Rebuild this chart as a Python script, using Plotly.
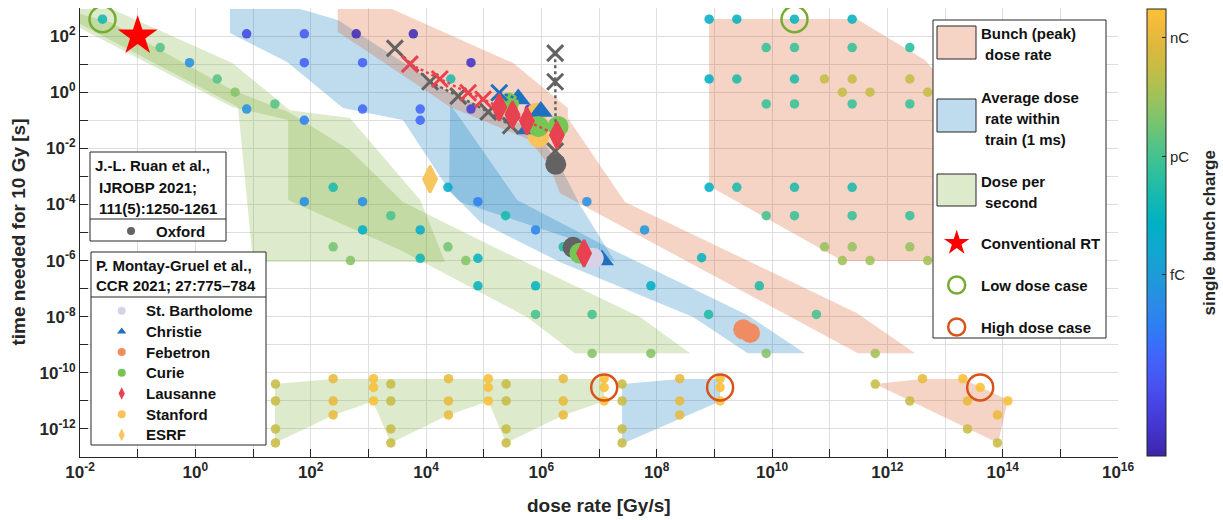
import plotly.graph_objects as go

# ---------------- data (all values are log10) ----------------
# x: dose rate [Gy/s], y: time needed for 10 Gy [s], q: single bunch charge [C]
dots_upper_left = [(-1.61, 2.60, -13.2), (-0.61, 1.59, -11.7), (-0.10, 1.05, -15.5), (0.38, 0.47, -11.7),
                   (0.69, 0.00, -10.9), (0.89, -0.60, -15.5), (1.38, -0.42, -11.7), (1.89, -1.00, -16.3)]
dots_upper_blue = [(0.89, 2.08, -18.2), (1.89, 2.08, -17.6), (1.89, 1.05, -17.3), (2.90, 1.05, -17.3),
                   (2.90, -0.60, -17.0), (3.90, -0.60, -17.0), (3.90, -1.00, -17.0)]
dots_upper_peak = [(2.79, 2.08, -19.3), (3.78, 2.08, -19.3), (4.78, 1.05, -19.0), (4.78, -0.60, -18.6),
                   (5.79, -0.60, -19.0), (4.43, 0.47, -12.9)]
dots_middle = [(2.39, -3.39, -12.9), (1.89, -3.90, -15.5), (2.90, -3.90, -15.5), (3.39, -4.40, -11.9),
               (2.90, -4.91, -13.8), (3.90, -4.91, -14.0), (2.39, -5.51, -11.2), (4.38, -5.51, -11.2),
               (2.69, -6.00, -10.9), (3.90, -5.92, -13.2), (4.38, -3.39, -14.0), (4.90, -3.90, -16.3),
               (5.38, -4.40, -13.0), (5.90, -4.91, -16.0), (4.69, -6.00, -10.9), (4.90, -5.92, -13.5),
               (4.90, -6.90, -13.5), (5.90, -6.90, -13.5), (5.90, -7.92, -12.0), (6.88, -7.92, -12.0),
               (6.88, -9.31, -10.9), (7.90, -9.31, -10.9), (7.90, -6.90, -13.8), (8.90, -7.92, -12.8),
               (8.78, -5.90, -13.5), (9.78, -6.90, -12.8), (10.77, -7.92, -12.0), (9.90, -9.31, -10.9),
               (6.79, -3.90, -15.5), (7.79, -4.91, -15.2), (6.38, -5.51, -12.8)]
dots_peak_block = [(8.91, 2.60, -13.8), (9.39, 2.60, -13.5), (10.39, 2.60, -13.5), (11.39, 2.60, -13.5),
                   (9.90, 1.59, -12.3), (10.39, 1.59, -12.3), (11.39, 1.59, -12.3), (12.39, 1.59, -12.6),
                   (8.91, 0.47, -13.8), (9.39, 0.47, -12.9), (10.39, 0.47, -12.9), (10.91, 0.47, -9.8),
                   (11.39, 0.47, -9.8), (12.39, 0.47, -9.8), (11.22, 0.00, -9.8), (11.70, 0.00, -9.8),
                   (12.70, 0.00, -9.8), (9.90, -0.42, -12.3), (10.39, -0.42, -12.3), (11.39, -0.42, -12.3),
                   (12.39, -0.42, -12.3), (8.91, -3.39, -13.8), (9.39, -3.39, -12.9), (10.39, -3.39, -12.9),
                   (11.39, -3.39, -12.9), (9.90, -4.40, -12.0), (10.39, -4.40, -12.3), (11.39, -4.40, -12.3),
                   (12.39, -4.40, -12.3), (10.91, -5.51, -10.6), (11.39, -5.51, -10.6), (12.39, -5.51, -10.6),
                   (11.22, -6.00, -10.4), (11.70, -6.00, -10.4), (12.70, -6.00, -10.4), (11.79, -9.31, -10.4)]
dots_bottom = [(1.39, -10.40, -9.7), (1.39, -11.00, -9.7), (1.39, -12.00, -9.7), (1.39, -12.50, -9.7),
               (2.39, -10.21, -8.9), (2.39, -11.00, -8.9), (2.39, -11.50, -8.9),
               (3.09, -10.21, -8.4), (3.09, -10.52, -8.4), (3.09, -11.00, -8.4),
               (3.39, -10.40, -9.7), (3.39, -11.00, -9.7), (3.39, -12.00, -9.7), (3.39, -12.50, -9.7),
               (4.39, -10.21, -8.9), (4.39, -11.00, -8.9), (4.39, -11.50, -8.9),
               (5.08, -10.21, -8.4), (5.08, -10.52, -8.4), (5.08, -11.00, -8.4),
               (5.39, -10.40, -9.7), (5.39, -11.00, -9.7), (5.39, -12.00, -9.7), (5.39, -12.50, -9.7),
               (6.38, -10.21, -8.9), (6.38, -11.00, -8.9), (6.38, -11.50, -8.9),
               (7.09, -10.21, -8.4), (7.09, -10.52, -8.4), (7.09, -11.00, -8.4),
               (7.40, -10.40, -9.7), (7.40, -11.00, -9.7), (7.40, -12.00, -9.7), (7.40, -12.50, -9.7),
               (8.40, -10.21, -8.9), (8.40, -11.00, -8.9), (8.40, -11.50, -8.9),
               (9.10, -10.21, -8.4), (9.10, -10.52, -8.4), (9.10, -11.00, -8.4),
               (11.79, -10.40, -9.7), (12.61, -10.21, -8.9), (12.39, -11.00, -9.7),
               (13.31, -10.21, -8.4), (13.61, -10.52, -8.4), (14.09, -11.00, -8.4),
               (13.39, -11.00, -8.9), (13.91, -11.50, -8.9), (13.39, -12.00, -9.7), (13.91, -12.50, -9.7)]

# shaded regions (polygon vertices, log10 x / log10 y)
green_a = [(-2.0, 2.96), (-1.45, 2.96), (0.64, 1.04), (1.64, -0.64), (2.68, -0.92), (3.90, -3.84),
           (4.33, -6.05), (1.00, -6.05), (0.74, -0.53), (-2.0, 2.43)]
green_b = [(-2.0, 2.79), (-1.48, 2.50), (0.64, 0.08), (1.61, -0.71), (2.68, -2.06), (3.60, -3.91),
           (5.28, -5.62), (7.71, -8.01), (8.58, -9.30), (6.58, -9.30), (5.75, -8.01), (3.55, -5.62),
           (1.61, -3.84), (1.61, -0.99), (0.64, -0.53), (-2.0, 2.29)]
green_c = [(1.38, -10.40), (2.39, -10.22), (3.08, -10.22), (4.38, -10.22), (5.08, -10.22), (6.38, -10.22),
           (7.09, -10.22), (7.09, -11.01), (6.38, -11.51), (5.39, -12.50), (5.08, -11.01), (4.38, -11.51),
           (3.39, -12.50), (3.08, -11.01), (2.39, -11.51), (1.38, -12.50)]
blue_a = [(0.60, 2.96), (1.82, 2.96), (2.47, 2.57), (4.42, -0.03), (5.89, -1.35), (6.32, -2.60),
          (6.67, -4.02), (7.28, -6.05), (6.58, -5.27), (4.59, -3.91), (4.42, -3.56), (3.60, -0.99),
          (2.56, -0.56), (1.59, 1.08), (0.60, 2.11)]
blue_b = [(4.42, -0.46), (4.59, -0.92), (5.58, -3.84), (7.24, -5.62), (9.57, -7.94), (10.57, -9.30),
          (9.58, -9.30), (8.63, -8.01), (6.32, -6.05), (4.94, -4.63), (4.40, -3.49)]
blue_c = [(7.40, -10.40), (8.40, -10.22), (9.10, -10.22), (9.10, -11.01), (7.40, -12.54)]
peach_a = [(2.47, 2.96), (3.41, 2.96), (5.51, 1.04), (6.46, -0.56), (6.46, -0.92), (7.45, -3.91),
           (11.47, -7.87), (12.48, -9.30), (11.49, -9.30), (6.32, -3.59), (6.15, -2.67), (5.80, -1.70),
           (4.42, -0.53), (2.47, 2.15)]
peach_b = [(8.91, 2.61), (11.47, 2.61), (12.65, 1.15), (13.26, -0.28), (13.26, -6.02), (11.23, -6.02),
           (8.91, -3.34)]
peach_c = [(11.79, -10.40), (12.61, -10.22), (13.31, -10.22), (14.09, -10.97), (13.92, -12.50)]

# Ruan et al. / Montay-Gruel et al. measurements
oxford_x_diag = [(3.46, 1.56), (4.07, 0.37), (4.56, -0.14), (5.08, -0.70), (5.47, -1.19)]
oxford_x_vert = [(6.24, 1.39), (6.24, 0.37), (6.24, -2.10)]
oxford_pts = [(6.25, -2.57), (6.55, -5.53)]
lausanne_x = [(3.72, 1.00), (4.24, 0.47), (4.73, -0.02), (4.99, -0.25)]
lausanne_pts = [(5.27, -0.54), (5.50, -0.80), (5.75, -1.03), (6.27, -1.53), (6.74, -5.74)]
christie_x = [(5.27, -0.02)]
christie_pts = [(5.60, -0.24), (5.99, -0.69), (5.77, -1.31), (7.05, -5.98)]
curie_pts = [(5.43, -0.39), (5.95, -1.23), (6.29, -1.22), (6.67, -5.74)]
stanford_pts = [(5.92, -0.75), (5.95, -1.60)]
bartholome_pts = [(6.90, -5.92)]
febetron_pts = [(9.50, -8.45), (9.62, -8.58)]
esrf_pts = [(4.07, -3.10)]
conventional_rt = [(-1.0, 2.0)]
low_dose_case = [(-1.61, 2.60), (10.39, 2.60)]
high_dose_case = [(7.09, -10.52), (9.10, -10.52), (13.61, -10.52)]

charge_ticks = [-15, -12, -9]
charge_labels = ["fC", "pC", "nC"]
q_min, q_max = -19.58, -8.27

# ---------------- figure ----------------
FONT = "Liberation Sans, Arial, sans-serif"
PEACH = "rgba(217,83,25,0.25)"
BLUE = "rgba(0,114,189,0.25)"
GREEN = "rgba(119,172,48,0.25)"

parula = [[0.000, '#3e26a8'], [0.057, '#4433ca'], [0.115, '#4744e3'], [0.172, '#4757f3'],
          [0.230, '#3f67fc'], [0.287, '#2e7ef3'], [0.345, '#2a8ce6'], [0.402, '#1e9bd8'],
          [0.460, '#12a6d0'], [0.517, '#00b0c5'], [0.575, '#14b8b0'], [0.632, '#2ebf9c'],
          [0.690, '#50c388'], [0.747, '#78c470'], [0.805, '#9fc25a'], [0.862, '#c3bd46'],
          [0.920, '#deb83d'], [0.977, '#f6bc3b'], [1.000, '#fac236']]


def X(pts):
    return [10.0 ** p[0] for p in pts]


def Y(pts):
    return [10.0 ** p[1] for p in pts]


fig = go.Figure()

for poly, col in [(green_a, GREEN), (green_b, GREEN), (green_c, GREEN),
                  (blue_a, BLUE), (blue_b, BLUE), (blue_c, BLUE),
                  (peach_a, PEACH), (peach_b, PEACH), (peach_c, PEACH)]:
    pts = poly + [poly[0]]
    fig.add_trace(go.Scatter(x=X(pts), y=Y(pts), mode="lines", fill="toself", fillcolor=col,
                             line=dict(width=0, color=col), hoverinfo="skip", showlegend=False))

all_dots = dots_upper_left + dots_upper_blue + dots_upper_peak + dots_middle + dots_peak_block + dots_bottom
fig.add_trace(go.Scatter(
    x=X(all_dots), y=Y(all_dots), mode="markers", showlegend=False,
    marker=dict(size=9.5, color=[p[2] for p in all_dots], colorscale=parula, cmin=q_min, cmax=q_max,
                opacity=0.88, line=dict(width=0),
                colorbar=dict(x=1.028, xanchor="left", xpad=0, ypad=0, y=0.5, yanchor="middle",
                              len=0.9955, thickness=19, outlinewidth=1, outlinecolor="#262626",
                              tickvals=charge_ticks, ticktext=charge_labels, ticks="inside",
                              ticklen=4, tickcolor="#262626",
                              tickfont=dict(family=FONT, size=15, color="#262626"))),
))


def markers(pts, symbol, size, color, line_w=0, line_c=None, mode="markers", dash=None):
    fig.add_trace(go.Scatter(
        x=X(pts), y=Y(pts), mode=mode, showlegend=False, hoverinfo="skip",
        line=dict(color=color, width=2.5, dash=dash or "solid"),
        marker=dict(symbol=symbol, size=size, color=color,
                    line=dict(width=line_w, color=line_c or color))))


GREY = "#636363"
RED = "#e8414f"
CBLUE = "#1f70c1"
markers(stanford_pts, "circle", 21, "#fbc25c")
markers(christie_pts, "triangle-up", 21, CBLUE)
markers(bartholome_pts, "circle", 21, "#d8d2e9")
markers(oxford_pts, "circle", 21, GREY)
markers(curie_pts, "circle", 21, "#76c653")
markers(febetron_pts, "circle", 20, "#f08c62")
markers(esrf_pts, "diamond-tall", 19, "#f7c65e", line_w=2.5)
markers(oxford_x_diag, "x-thin", 16, GREY, line_w=3, mode="lines+markers", dash="dot")
markers(oxford_x_vert + [oxford_pts[0]], "x-thin", 16, GREY, line_w=3, mode="lines", dash="dot")
markers(oxford_x_vert, "x-thin", 16, GREY, line_w=3)
markers(christie_x + [christie_pts[0]], "x-thin", 16, CBLUE, line_w=3, mode="lines", dash="dot")
markers(christie_x, "x-thin", 16, CBLUE, line_w=3)
markers(lausanne_x + lausanne_pts[:4], "x-thin", 16, RED, line_w=3, mode="lines", dash="dot")
markers(lausanne_x, "x-thin", 16, RED, line_w=3)
markers(lausanne_pts, "diamond-tall", 19, RED, line_w=2.5)
markers(conventional_rt, "star", 30, "#ff0000")
markers(low_dose_case, "circle-open", 26, "#77ac30", line_w=2.5)
markers(high_dose_case, "circle-open", 26, "#d95319", line_w=2.5)

# ---------------- legends (drawn on a pixel overlay axis) ----------------
def box(x0, y0, x1, y1, fill="white", line="#262626"):
    fig.add_trace(go.Scatter(x=[x0, x1, x1, x0, x0], y=[y0, y0, y1, y1, y0], xaxis="x2", yaxis="y2",
                             mode="lines", fill="toself", fillcolor=fill, line=dict(color=line, width=1),
                             hoverinfo="skip", showlegend=False))


def hline(x0, x1, y):
    fig.add_trace(go.Scatter(x=[x0, x1], y=[y, y], xaxis="x2", yaxis="y2", mode="lines",
                             line=dict(color="#262626", width=1), hoverinfo="skip", showlegend=False))


def sym(x, y, symbol, size, color, line_w=0):
    fig.add_trace(go.Scatter(x=[x], y=[y], xaxis="x2", yaxis="y2", mode="markers", hoverinfo="skip",
                             showlegend=False,
                             marker=dict(symbol=symbol, size=size, color=color,
                                         line=dict(width=line_w, color=color))))


annots = []


def text(x, y, s):
    annots.append(dict(x=x, y=y, xref="x2", yref="y2", text=s, showarrow=False, xanchor="left",
                       yanchor="middle", font=dict(family=FONT, size=15, color="#111111", weight="bold")))


# right legend
box(933, 20, 1106, 338)
box(937, 26, 976, 59, fill=PEACH)
box(937, 99, 976, 132, fill=BLUE)
box(937, 174, 976, 206, fill=GREEN)
sym(956.7, 243, "star", 19, "#ff0000")
sym(956.7, 285, "circle-open", 17, "#77ac30", 2.5)
sym(956.7, 327, "circle-open", 17, "#d95319", 2.5)
text(979, 33, "Bunch (peak)")
text(983, 54, "dose rate")
text(979, 97, "Average dose")
text(983, 118, "rate within")
text(983, 139, "train (1 ms)")
text(979, 181, "Dose per")
text(983, 202, "second")
text(979, 243, "Conventional RT")
text(979, 285, "Low dose case")
text(979, 327, "High dose case")

# Ruan et al. legend
box(90, 152, 226, 241)
hline(90, 226, 219)
text(93, 165, "J.-L. Ruan et al.,")
text(97, 187, "IJROBP 2021;")
text(97, 208, "111(5):1250-1261")
sym(131, 231, "circle", 8, GREY)
text(154, 231, "Oxford")

# Montay-Gruel et al. legend
box(91, 252, 266, 445)
hline(91, 266, 297)
text(94, 265, "P. Montay-Gruel et al.,")
text(94, 285, "CCR 2021; 27:775\u2013784")
mg_items = [("St. Bartholome", "circle", "#d8d2e9"), ("Christie", "triangle-up", CBLUE),
            ("Febetron", "circle", "#f08c62"), ("Curie", "circle", "#76c653"),
            ("Lausanne", "diamond-tall", RED), ("Stanford", "circle", "#fbc25c"),
            ("ESRF", "diamond-tall", "#f7c65e")]
for i, (name, s, c) in enumerate(mg_items):
    yy = 310.7 + i * 20.7
    sym(121.7, yy, s, 8 if s != "diamond-tall" else 9, c)
    text(144, yy, name)

# axis titles
annots.append(dict(x=0.5, y=-0.107, xref="paper", yref="paper", text="dose rate [Gy/s]", showarrow=False,
                   xanchor="center", yanchor="middle",
                   font=dict(family=FONT, size=19, color="#262626", weight="bold")))
annots.append(dict(x=-0.0597, y=0.5, xref="paper", yref="paper", text="time needed for 10 Gy [s]",
                   showarrow=False, textangle=-90, xanchor="center", yanchor="middle",
                   font=dict(family=FONT, size=19, color="#262626", weight="bold")))
annots.append(dict(x=1.0886, y=0.5, xref="paper", yref="paper", text="single bunch charge",
                   showarrow=False, textangle=-90, xanchor="center", yanchor="middle",
                   font=dict(family=FONT, size=17, color="#262626", weight="bold")))

x_major = list(range(-2, 17, 2))
x_minor = list(range(-1, 16, 2))
y_major = list(range(-12, 3, 2))
y_minor = list(range(-13, 4, 2))
tick_font = dict(family=FONT, size=17, color="#262626", weight="bold")
axis_common = dict(type="log", showgrid=True, gridcolor="#dedede", gridwidth=1, zeroline=False,
                   showline=True, linecolor="#262626", linewidth=1, ticks="inside", ticklen=8,
                   tickcolor="#262626", tickfont=tick_font)
fig.update_layout(
    width=1223, height=520, autosize=False,
    margin=dict(l=80, r=105, t=8, b=63, autoexpand=False),
    paper_bgcolor="white", plot_bgcolor="white",
    showlegend=False,
    annotations=annots,
    xaxis=dict(range=[-2, 16], tickvals=[10.0 ** k for k in x_major],
               ticktext=[f"10<sup>{k}</sup>" for k in x_major],
               minor=dict(tickvals=[10.0 ** k for k in x_minor], showgrid=True, gridcolor="#dedede",
                          ticks="inside", ticklen=8, tickcolor="#262626"),
               **axis_common),
    yaxis=dict(range=[-13, 3], tickvals=[10.0 ** k for k in y_major],
               ticktext=[f"10<sup>{k}</sup>" for k in y_major],
               minor=dict(tickvals=[10.0 ** k for k in y_minor], showgrid=True, gridcolor="#dedede",
                          ticks="inside", ticklen=8, tickcolor="#262626"),
               **axis_common),
    xaxis2=dict(overlaying="x", anchor="y2", range=[80, 1118], visible=False, fixedrange=True),
    yaxis2=dict(overlaying="y", anchor="x2", range=[457, 8], visible=False, fixedrange=True),
)

fig.write_html("out.html", config={"displayModeBar": False},
               post_script="document.body.style.margin='0px';")
